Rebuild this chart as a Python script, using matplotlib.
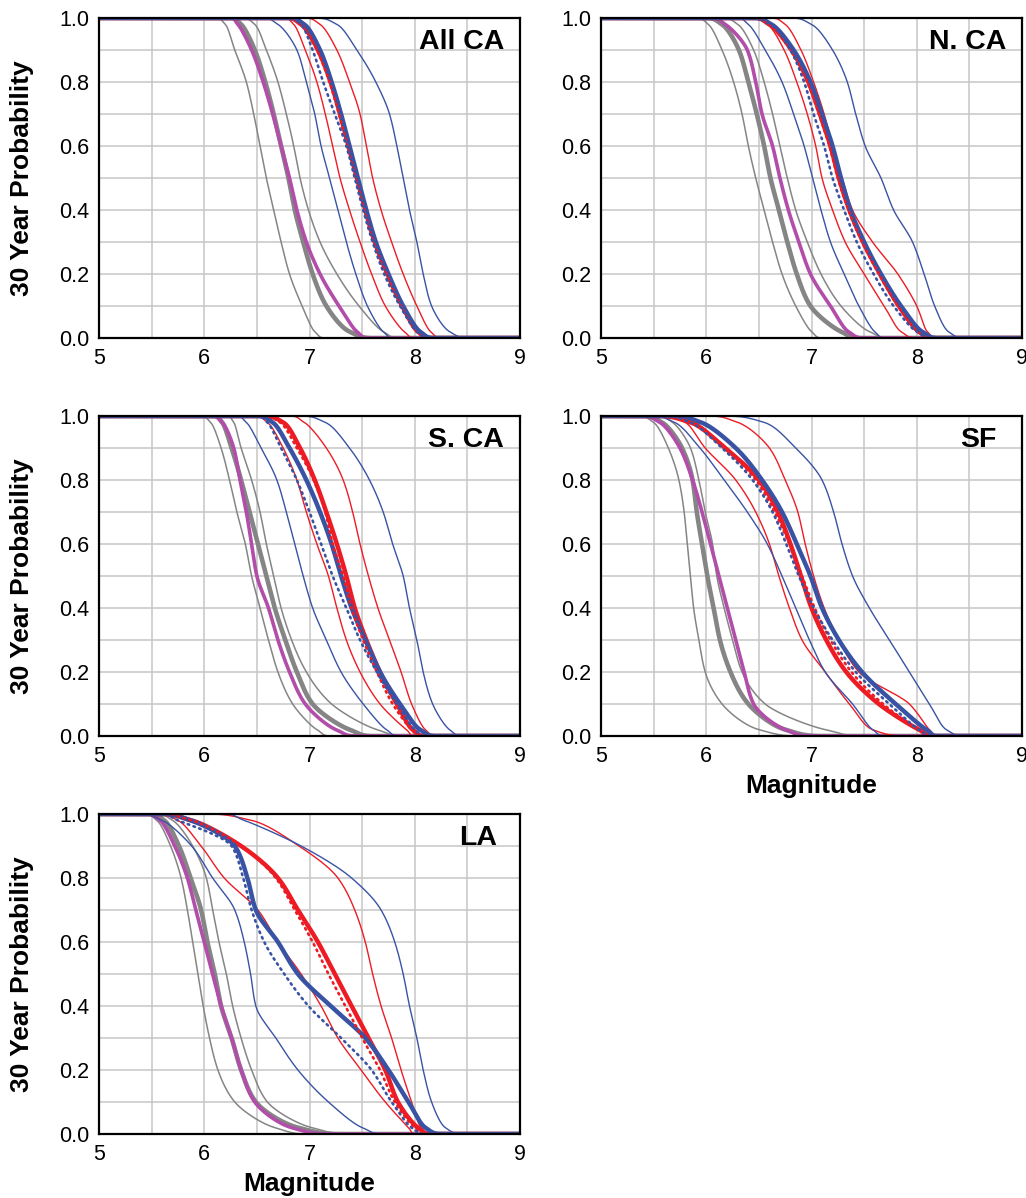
import matplotlib
matplotlib.use("Agg")
import numpy as np
import matplotlib.pyplot as plt

plt.rcParams['font.family'] = ['Liberation Sans', 'DejaVu Sans']

# probability levels; each curve gives the magnitude where it crosses them
LEVELS = [1.0, 0.98, 0.9, 0.8, 0.7, 0.6, 0.5, 0.4, 0.3, 0.2, 0.1, 0.02, 0.0]

all_ca = {
    "gray_lo":  [6.10, 6.20, 6.29, 6.40, 6.47, 6.53, 6.59, 6.66, 6.73, 6.81, 6.93, 7.05, 7.15],
    "gray_hi":  [6.35, 6.48, 6.59, 6.70, 6.78, 6.85, 6.91, 6.99, 7.10, 7.26, 7.47, 7.70, 7.85],
    "gray_mid": [6.25, 6.35, 6.48, 6.58, 6.66, 6.73, 6.80, 6.86, 6.94, 7.03, 7.16, 7.38, 7.60],
    "magenta":  [6.25, 6.32, 6.45, 6.56, 6.65, 6.73, 6.81, 6.88, 6.97, 7.10, 7.28, 7.45, 7.55],
    "red_lo":   [6.75, 6.85, 6.96, 7.07, 7.15, 7.22, 7.29, 7.38, 7.48, 7.59, 7.72, 7.90, 8.00],
    "red_hi":   [6.95, 7.10, 7.26, 7.38, 7.48, 7.54, 7.60, 7.68, 7.78, 7.89, 8.02, 8.15, 8.25],
    "blue_lo":  [6.55, 6.70, 6.88, 6.97, 7.05, 7.11, 7.19, 7.27, 7.35, 7.44, 7.55, 7.70, 7.80],
    "blue_hi":  [7.05, 7.26, 7.45, 7.63, 7.76, 7.83, 7.89, 7.95, 8.02, 8.08, 8.16, 8.33, 8.50],
    "red_mid":  [6.78, 6.92, 7.08, 7.20, 7.29, 7.37, 7.45, 7.53, 7.62, 7.74, 7.88, 8.03, 8.15],
    "blue_mid": [6.80, 6.95, 7.10, 7.21, 7.30, 7.38, 7.46, 7.54, 7.63, 7.75, 7.89, 8.05, 8.18],
    "red_dot":  [6.78, 6.92, 7.07, 7.19, 7.28, 7.36, 7.44, 7.52, 7.61, 7.73, 7.87, 8.02, 8.13],
    "blue_dot": [6.80, 6.92, 7.03, 7.13, 7.24, 7.35, 7.43, 7.51, 7.60, 7.71, 7.86, 8.02, 8.12],
}

n_ca = {
    "gray_lo":  [5.90, 6.02, 6.15, 6.26, 6.34, 6.40, 6.47, 6.55, 6.63, 6.72, 6.85, 7.00, 7.10],
    "gray_hi":  [6.15, 6.30, 6.45, 6.55, 6.63, 6.70, 6.77, 6.85, 6.96, 7.09, 7.28, 7.55, 7.75],
    "gray_mid": [6.00, 6.15, 6.31, 6.40, 6.48, 6.55, 6.61, 6.69, 6.77, 6.86, 6.99, 7.28, 7.45],
    "magenta":  [6.05, 6.18, 6.39, 6.47, 6.53, 6.63, 6.70, 6.78, 6.88, 6.99, 7.18, 7.35, 7.50],
    "red_lo":   [6.42, 6.58, 6.74, 6.86, 6.96, 7.04, 7.10, 7.20, 7.32, 7.50, 7.69, 7.85, 8.00],
    "red_hi":   [6.61, 6.75, 6.90, 7.02, 7.12, 7.20, 7.29, 7.39, 7.58, 7.82, 8.00, 8.10, 8.20],
    "blue_lo":  [6.29, 6.40, 6.56, 6.72, 6.83, 6.93, 7.01, 7.09, 7.18, 7.31, 7.45, 7.60, 7.70],
    "blue_hi":  [6.80, 7.00, 7.20, 7.34, 7.42, 7.51, 7.66, 7.78, 7.96, 8.07, 8.17, 8.30, 8.45],
    "red_mid":  [6.45, 6.60, 6.81, 6.97, 7.08, 7.18, 7.26, 7.36, 7.49, 7.65, 7.83, 8.02, 8.15],
    "blue_mid": [6.45, 6.62, 6.83, 6.99, 7.10, 7.20, 7.28, 7.37, 7.50, 7.66, 7.85, 8.05, 8.20],
    "red_dot":  [6.45, 6.60, 6.80, 6.96, 7.07, 7.17, 7.25, 7.35, 7.48, 7.64, 7.82, 8.01, 8.12],
    "blue_dot": [6.48, 6.62, 6.80, 6.93, 7.02, 7.12, 7.20, 7.31, 7.43, 7.59, 7.78, 8.00, 8.15],
}

s_ca = {
    "gray_lo":  [5.96, 6.06, 6.16, 6.24, 6.31, 6.39, 6.45, 6.53, 6.61, 6.70, 6.84, 7.07, 7.20],
    "gray_hi":  [6.21, 6.28, 6.35, 6.45, 6.53, 6.59, 6.66, 6.73, 6.83, 6.97, 7.21, 7.64, 7.90],
    "gray_mid": [6.09, 6.17, 6.26, 6.35, 6.43, 6.51, 6.59, 6.67, 6.77, 6.88, 7.03, 7.38, 7.60],
    "magenta":  [6.07, 6.17, 6.28, 6.34, 6.40, 6.45, 6.50, 6.61, 6.70, 6.81, 6.96, 7.25, 7.45],
    "red_lo":   [6.47, 6.60, 6.75, 6.88, 6.97, 7.07, 7.18, 7.26, 7.35, 7.48, 7.67, 7.92, 8.00],
    "red_hi":   [6.81, 6.95, 7.16, 7.32, 7.41, 7.48, 7.56, 7.65, 7.76, 7.87, 7.97, 8.10, 8.20],
    "blue_lo":  [6.30, 6.40, 6.54, 6.69, 6.78, 6.86, 6.94, 7.03, 7.16, 7.30, 7.51, 7.73, 7.85],
    "blue_hi":  [6.91, 7.15, 7.38, 7.57, 7.70, 7.79, 7.89, 7.95, 8.02, 8.08, 8.17, 8.33, 8.45],
    "red_mid":  [6.55, 6.75, 6.91, 7.05, 7.16, 7.26, 7.35, 7.43, 7.54, 7.67, 7.83, 7.98, 8.10],
    "blue_mid": [6.50, 6.65, 6.81, 6.97, 7.10, 7.21, 7.30, 7.40, 7.53, 7.67, 7.86, 8.05, 8.20],
    "red_dot":  [6.55, 6.72, 6.88, 7.04, 7.15, 7.22, 7.32, 7.40, 7.51, 7.64, 7.79, 7.97, 8.05],
    "blue_dot": [6.50, 6.60, 6.73, 6.88, 7.00, 7.11, 7.22, 7.35, 7.48, 7.64, 7.83, 8.00, 8.10],
}

sf = {
    "gray_lo":  [5.36, 5.50, 5.64, 5.74, 5.79, 5.82, 5.85, 5.88, 5.93, 5.99, 6.15, 6.50, 6.90],
    "gray_hi":  [5.55, 5.68, 5.85, 5.93, 5.99, 6.06, 6.10, 6.17, 6.25, 6.34, 6.56, 7.13, 7.50],
    "gray_mid": [5.42, 5.58, 5.77, 5.87, 5.91, 5.96, 6.01, 6.07, 6.13, 6.23, 6.40, 6.75, 7.10],
    "magenta":  [5.40, 5.56, 5.75, 5.87, 5.96, 6.04, 6.12, 6.20, 6.28, 6.36, 6.45, 6.75, 7.00],
    "red_lo":   [5.61, 5.80, 5.99, 6.28, 6.47, 6.60, 6.69, 6.79, 6.91, 7.13, 7.36, 7.58, 7.90],
    "red_hi":   [6.02, 6.30, 6.60, 6.75, 6.87, 6.94, 7.02, 7.12, 7.26, 7.45, 7.93, 8.12, 8.20],
    "blue_lo":  [5.48, 5.70, 5.94, 6.17, 6.39, 6.58, 6.72, 6.85, 6.98, 7.13, 7.39, 7.58, 7.70],
    "blue_hi":  [6.18, 6.55, 6.85, 7.10, 7.21, 7.29, 7.39, 7.55, 7.74, 7.93, 8.12, 8.28, 8.45],
    "red_mid":  [5.55, 5.85, 6.18, 6.50, 6.68, 6.80, 6.90, 7.00, 7.14, 7.33, 7.64, 8.02, 8.15],
    "blue_mid": [5.70, 5.95, 6.28, 6.53, 6.72, 6.86, 6.99, 7.10, 7.26, 7.48, 7.80, 8.09, 8.20],
    "red_dot":  [5.58, 5.87, 6.17, 6.47, 6.65, 6.79, 6.91, 7.03, 7.18, 7.38, 7.68, 8.02, 8.15],
    "blue_dot": [5.61, 5.85, 6.15, 6.44, 6.63, 6.76, 6.88, 7.02, 7.20, 7.42, 7.74, 8.02, 8.15],
}

la = {
    "gray_lo":  [5.43, 5.55, 5.68, 5.78, 5.84, 5.89, 5.94, 5.99, 6.05, 6.13, 6.29, 6.67, 7.00],
    "gray_hi":  [5.55, 5.70, 5.89, 6.02, 6.08, 6.14, 6.21, 6.27, 6.35, 6.45, 6.60, 7.02, 7.40],
    "gray_mid": [5.48, 5.62, 5.76, 5.87, 5.97, 6.03, 6.10, 6.16, 6.26, 6.35, 6.49, 6.89, 7.30],
    "magenta":  [5.45, 5.58, 5.72, 5.84, 5.92, 6.00, 6.08, 6.16, 6.26, 6.35, 6.48, 6.83, 7.20],
    "red_lo":   [5.56, 5.75, 5.97, 6.19, 6.51, 6.70, 6.92, 7.11, 7.27, 7.49, 7.72, 7.94, 8.00],
    "red_hi":   [6.03, 6.45, 6.90, 7.27, 7.43, 7.53, 7.60, 7.68, 7.78, 7.87, 7.97, 8.06, 8.15],
    "blue_lo":  [5.40, 5.60, 5.88, 6.08, 6.29, 6.38, 6.44, 6.49, 6.68, 6.89, 7.18, 7.50, 7.70],
    "blue_hi":  [6.19, 6.38, 6.92, 7.40, 7.68, 7.81, 7.89, 7.95, 8.02, 8.08, 8.16, 8.29, 8.45],
    "red_mid":  [5.59, 5.88, 6.35, 6.70, 6.89, 7.08, 7.24, 7.40, 7.56, 7.72, 7.84, 8.03, 8.15],
    "blue_mid": [5.62, 5.87, 6.29, 6.41, 6.49, 6.70, 6.89, 7.20, 7.53, 7.75, 7.94, 8.10, 8.25],
    "red_dot":  [5.59, 5.88, 6.35, 6.68, 6.86, 7.03, 7.18, 7.34, 7.50, 7.67, 7.81, 8.00, 8.10],
    "blue_dot": [5.60, 5.75, 6.26, 6.37, 6.45, 6.57, 6.76, 6.99, 7.30, 7.59, 7.78, 7.97, 8.10],
}

GRAY, MAGENTA, BLUE, RED = '#858585', '#b24ea9', '#3953a4', '#ed1c24'
DOT = (0, (0.6, 1.7))
# drawing order and line style of each curve
STYLE = {
    "gray_lo":  (GRAY, 1.1, '-'),
    "gray_hi":  (GRAY, 1.1, '-'),
    "gray_mid": (GRAY, 3.3, '-'),
    "magenta":  (MAGENTA, 2.6, '-'),
    "red_lo":   (RED, 1.0, '-'),
    "red_hi":   (RED, 1.0, '-'),
    "blue_lo":  (BLUE, 1.0, '-'),
    "blue_hi":  (BLUE, 1.0, '-'),
    "red_mid":  (RED, 3.2, '-'),
    "blue_mid": (BLUE, 3.2, '-'),
    "red_dot":  (RED, 1.9, DOT),
    "blue_dot": (BLUE, 1.9, DOT),
}


def pchip(v, tt):
    # monotone cubic through v at t = 0, 1, 2, ... (Fritsch-Carlson)
    v = np.asarray(v, float)
    d = np.diff(v)
    m = np.zeros_like(v)
    m[0], m[-1] = d[0], d[-1]
    for k in range(1, len(v) - 1):
        if d[k - 1] * d[k] > 0:
            m[k] = 2.0 / (1.0 / d[k - 1] + 1.0 / d[k])
    i = np.clip(np.floor(tt).astype(int), 0, len(v) - 2)
    s = tt - i
    h00 = 2 * s**3 - 3 * s**2 + 1
    h10 = s**3 - 2 * s**2 + s
    h01 = -2 * s**3 + 3 * s**2
    h11 = s**3 - s**2
    return h00 * v[i] + h10 * m[i] + h01 * v[i + 1] + h11 * m[i + 1]


fig = plt.figure(figsize=(10.26, 11.98), dpi=100)
W, H = 1026, 1198
cols = [99, 601]
rows = [18, 416, 814]
pw, ph = 421, 320

panels = [
    ("All CA", all_ca, 0, 0, 0.962),
    ("N. CA", n_ca, 0, 1, 0.962),
    ("S. CA", s_ca, 1, 0, 0.962),
    ("SF", sf, 1, 1, 0.940),
    ("LA", la, 2, 0, 0.945),
]

for name, data, r, c, tx in panels:
    ax = fig.add_axes([cols[c] / W, 1 - (rows[r] + ph) / H, pw / W, ph / H])
    for key, (col, lw, ls) in STYLE.items():
        xs = [5.0] + data[key] + [9.0]
        ys = [1.0] + LEVELS + [0.0]
        tt = np.linspace(0, len(xs) - 1, (len(xs) - 1) * 20 + 1)
        ax.plot(pchip(xs, tt), pchip(ys, tt), color=col, lw=lw, ls=ls,
                solid_joinstyle='round', dash_capstyle='round')
    ax.set_xlim(5, 9)
    ax.set_ylim(0, 1)
    ax.set_xticks([5, 6, 7, 8, 9])
    ax.set_xticks([5.5, 6.5, 7.5, 8.5], minor=True)
    ax.set_yticks([0, 0.2, 0.4, 0.6, 0.8, 1.0])
    ax.set_yticks([0.1, 0.3, 0.5, 0.7, 0.9], minor=True)
    ax.set_yticklabels(['0.0', '0.2', '0.4', '0.6', '0.8', '1.0'])
    ax.grid(True, which='both', color='#c6c6c6', lw=1.1)
    ax.set_axisbelow(True)
    ax.tick_params(which='both', length=0, labelsize=15.5, pad=7)
    for sp in ax.spines.values():
        sp.set_linewidth(1.6)
        sp.set_color('black')
    ax.text(tx, 0.965, name, transform=ax.transAxes, ha='right', va='top',
            fontsize=20.5, fontweight='bold')
    if c == 0:
        fig.text(22 / W, 1 - (rows[r] + ph / 2) / H, '30 Year Probability',
                 rotation=90, ha='center', va='center', fontsize=19,
                 fontweight='bold')
    if name in ("SF", "LA"):
        fig.text((cols[c] + pw / 2) / W, 1 - (rows[r] + ph + 50) / H,
                 'Magnitude', ha='center', va='center', fontsize=19,
                 fontweight='bold')

fig.savefig('out.png', dpi=100)
